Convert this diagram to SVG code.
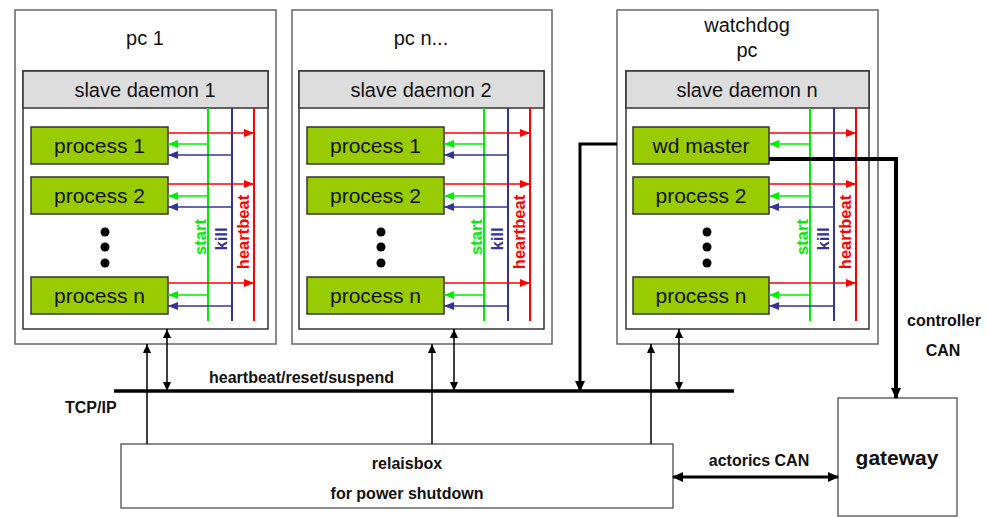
<svg xmlns="http://www.w3.org/2000/svg" width="988" height="518" viewBox="0 0 988 518">
<style>
text{font-family:"Liberation Sans",Arial,sans-serif;fill:#111}
.outer{fill:#fff;stroke:#666;stroke-width:1.5}
.daemon{fill:#fff;stroke:#333;stroke-width:1.5}
.hdr{fill:#ddd;stroke:#333;stroke-width:1.5}
.proc{fill:#99cc00;stroke:#333;stroke-width:1.5}
.t20{font-size:20px;text-anchor:middle}
.t21{font-size:21px;text-anchor:middle}
.b16{font-size:16px;font-weight:bold}
.rot{font-size:16.5px;font-weight:bold;text-anchor:middle}
.r{stroke:#ff0000;stroke-width:1.5;fill:none}
.g{stroke:#00ee00;stroke-width:1.5;fill:none}
.bl{stroke:#333399;stroke-width:1.5;fill:none}
.vr{stroke:#ff0000;stroke-width:2;fill:none}
.vg{stroke:#00ee00;stroke-width:2;fill:none}
.vb{stroke:#333399;stroke-width:2;fill:none}
.k{stroke:#000;stroke-width:1.5;fill:none}
.kk{stroke:#000;stroke-width:3.5;fill:none}
</style>
<defs>
<marker id="ar" markerUnits="userSpaceOnUse" markerWidth="10" markerHeight="8" refX="10" refY="4" orient="auto"><path d="M0,0 L10,4 L0,8 z" fill="#ff0000"/></marker>
<marker id="ag" markerUnits="userSpaceOnUse" markerWidth="10" markerHeight="8" refX="10" refY="4" orient="auto"><path d="M0,0 L10,4 L0,8 z" fill="#00ee00"/></marker>
<marker id="ab" markerUnits="userSpaceOnUse" markerWidth="10" markerHeight="8" refX="10" refY="4" orient="auto"><path d="M0,0 L10,4 L0,8 z" fill="#333399"/></marker>
<marker id="ak" markerUnits="userSpaceOnUse" markerWidth="9" markerHeight="8" refX="9" refY="4" orient="auto-start-reverse"><path d="M0,0 L9,4 L0,8 z" fill="#000"/></marker>
<marker id="akk" markerUnits="userSpaceOnUse" markerWidth="11" markerHeight="10" refX="10" refY="5" orient="auto-start-reverse"><path d="M0,0 L11,5 L0,10 z" fill="#000"/></marker>
</defs>

<g id="pc1">
<rect class="outer" x="15" y="10" width="261" height="334"/>
<text class="t20" x="145" y="45">pc 1</text>
<g id="daemon1">
<rect class="daemon" x="23" y="71" width="245" height="258"/>
<rect class="hdr" x="23" y="71" width="245" height="37"/>
<text class="t20" x="145" y="97">slave daemon 1</text>
</g>
<g id="pc1-proc1"><rect class="proc" x="31" y="127" width="137" height="37"/><text class="t21" x="99.5" y="153">process 1</text></g>
<g id="pc1-proc2"><rect class="proc" x="31" y="177" width="137" height="37"/><text class="t21" x="99.5" y="203">process 2</text></g>
<g id="pc1-procn"><rect class="proc" x="31" y="277" width="137" height="37"/><text class="t21" x="99.5" y="303">process n</text></g>
<circle cx="105" cy="232" r="4.5" fill="#000"/><circle cx="105" cy="247" r="4.5" fill="#000"/><circle cx="105" cy="263" r="4.5" fill="#000"/>
<g class="signals">
<line class="vg" x1="208" y1="108" x2="208" y2="321"/>
<line class="vb" x1="232" y1="108" x2="232" y2="321"/>
<line class="vr" x1="254" y1="108" x2="254" y2="321"/>
<line class="r" x1="168" y1="133" x2="254" y2="133" marker-end="url(#ar)"/>
<line class="g" x1="208" y1="144" x2="168" y2="144" marker-end="url(#ag)"/>
<line class="bl" x1="232" y1="155" x2="168" y2="155" marker-end="url(#ab)"/>
<line class="r" x1="168" y1="184" x2="254" y2="184" marker-end="url(#ar)"/>
<line class="g" x1="208" y1="196" x2="168" y2="196" marker-end="url(#ag)"/>
<line class="bl" x1="232" y1="207" x2="168" y2="207" marker-end="url(#ab)"/>
<line class="r" x1="168" y1="283" x2="254" y2="283" marker-end="url(#ar)"/>
<line class="g" x1="208" y1="295" x2="168" y2="295" marker-end="url(#ag)"/>
<line class="bl" x1="232" y1="306" x2="168" y2="306" marker-end="url(#ab)"/>
<text class="rot" transform="translate(206,237) rotate(-90)" style="fill:#00ee00">start</text>
<text class="rot" transform="translate(227,239) rotate(-90)" style="fill:#333399">kill</text>
<text class="rot" transform="translate(249,232) rotate(-90)" style="fill:#ff0000">heartbeat</text>
</g>
</g>

<g id="pcn" transform="translate(276,0)">
<rect class="outer" x="16" y="10" width="260" height="334"/>
<text class="t20" x="145" y="45">pc n...</text>
<g id="daemon2">
<rect class="daemon" x="23" y="71" width="245" height="258"/>
<rect class="hdr" x="23" y="71" width="245" height="37"/>
<text class="t20" x="145" y="97">slave daemon 2</text>
</g>
<g id="pcn-proc1"><rect class="proc" x="31" y="127" width="137" height="37"/><text class="t21" x="99.5" y="153">process 1</text></g>
<g id="pcn-proc2"><rect class="proc" x="31" y="177" width="137" height="37"/><text class="t21" x="99.5" y="203">process 2</text></g>
<g id="pcn-procn"><rect class="proc" x="31" y="277" width="137" height="37"/><text class="t21" x="99.5" y="303">process n</text></g>
<circle cx="105" cy="232" r="4.5" fill="#000"/><circle cx="105" cy="247" r="4.5" fill="#000"/><circle cx="105" cy="263" r="4.5" fill="#000"/>
<g class="signals">
<line class="vg" x1="208" y1="108" x2="208" y2="321"/>
<line class="vb" x1="232" y1="108" x2="232" y2="321"/>
<line class="vr" x1="254" y1="108" x2="254" y2="321"/>
<line class="r" x1="168" y1="133" x2="254" y2="133" marker-end="url(#ar)"/>
<line class="g" x1="208" y1="144" x2="168" y2="144" marker-end="url(#ag)"/>
<line class="bl" x1="232" y1="155" x2="168" y2="155" marker-end="url(#ab)"/>
<line class="r" x1="168" y1="184" x2="254" y2="184" marker-end="url(#ar)"/>
<line class="g" x1="208" y1="196" x2="168" y2="196" marker-end="url(#ag)"/>
<line class="bl" x1="232" y1="207" x2="168" y2="207" marker-end="url(#ab)"/>
<line class="r" x1="168" y1="283" x2="254" y2="283" marker-end="url(#ar)"/>
<line class="g" x1="208" y1="295" x2="168" y2="295" marker-end="url(#ag)"/>
<line class="bl" x1="232" y1="306" x2="168" y2="306" marker-end="url(#ab)"/>
<text class="rot" transform="translate(206,237) rotate(-90)" style="fill:#00ee00">start</text>
<text class="rot" transform="translate(227,239) rotate(-90)" style="fill:#333399">kill</text>
<text class="rot" transform="translate(249,232) rotate(-90)" style="fill:#ff0000">heartbeat</text>
</g>
</g>

<g id="watchdog" transform="translate(602,0)">
<rect class="outer" x="15" y="10" width="261" height="334"/>
<text class="t20" x="145" y="32">watchdog</text>
<text class="t20" x="145" y="57">pc</text>
<g id="daemonn">
<rect class="daemon" x="24" y="71" width="243" height="258"/>
<rect class="hdr" x="24" y="71" width="243" height="37"/>
<text class="t20" x="145" y="97">slave daemon n</text>
</g>
<g id="wd-master"><rect class="proc" x="31" y="127" width="136" height="37"/><text class="t21" x="99" y="153">wd master</text></g>
<g id="wd-proc2"><rect class="proc" x="31" y="177" width="136" height="37"/><text class="t21" x="99" y="203">process 2</text></g>
<g id="wd-procn"><rect class="proc" x="31" y="277" width="136" height="37"/><text class="t21" x="99" y="303">process n</text></g>
<circle cx="105" cy="232" r="4.5" fill="#000"/><circle cx="105" cy="247" r="4.5" fill="#000"/><circle cx="105" cy="263" r="4.5" fill="#000"/>
<g class="signals">
<line class="vg" x1="208" y1="108" x2="208" y2="321"/>
<line class="vb" x1="232" y1="108" x2="232" y2="321"/>
<line class="vr" x1="254" y1="108" x2="254" y2="321"/>
<line class="r" x1="167" y1="133" x2="254" y2="133" marker-end="url(#ar)"/>
<line class="g" x1="208" y1="144" x2="167" y2="144" marker-end="url(#ag)"/>
<line class="r" x1="167" y1="184" x2="254" y2="184" marker-end="url(#ar)"/>
<line class="g" x1="208" y1="196" x2="167" y2="196" marker-end="url(#ag)"/>
<line class="bl" x1="232" y1="207" x2="167" y2="207" marker-end="url(#ab)"/>
<line class="r" x1="167" y1="283" x2="254" y2="283" marker-end="url(#ar)"/>
<line class="g" x1="208" y1="295" x2="167" y2="295" marker-end="url(#ag)"/>
<line class="bl" x1="232" y1="306" x2="167" y2="306" marker-end="url(#ab)"/>
<text class="rot" transform="translate(206,237) rotate(-90)" style="fill:#00ee00">start</text>
<text class="rot" transform="translate(227,239) rotate(-90)" style="fill:#333399">kill</text>
<text class="rot" transform="translate(249,232) rotate(-90)" style="fill:#ff0000">heartbeat</text>
</g>
</g>

<g id="relaisbox">
<rect class="outer" x="121" y="444" width="552" height="64"/>
<text class="b16" x="407" y="469" text-anchor="middle">relaisbox</text>
<text class="b16" x="407" y="499" text-anchor="middle">for power shutdown</text>
</g>

<g id="gateway">
<rect class="outer" x="838" y="398" width="119" height="118"/>
<text x="897" y="465" text-anchor="middle" style="font-size:21px;font-weight:bold">gateway</text>
</g>

<g id="connectors">
<line class="kk" x1="114" y1="391" x2="734" y2="391"/>
<line class="k" x1="147" y1="444" x2="147" y2="344" marker-end="url(#ak)"/>
<line class="k" x1="167" y1="329" x2="167" y2="391" marker-start="url(#ak)" marker-end="url(#ak)"/>
<line class="k" x1="432" y1="444" x2="432" y2="344" marker-end="url(#ak)"/>
<line class="k" x1="454" y1="329" x2="454" y2="391" marker-start="url(#ak)" marker-end="url(#ak)"/>
<line class="k" x1="651" y1="444" x2="651" y2="344" marker-end="url(#ak)"/>
<line class="k" x1="679" y1="329" x2="679" y2="391" marker-start="url(#ak)" marker-end="url(#ak)"/>
<polyline style="stroke:#000;stroke-width:3;fill:none" points="617,144 580,144 580,391" marker-end="url(#akk)"/>
<polyline style="stroke:#000;stroke-width:4;fill:none" points="769,159 896,159 896,398" marker-end="url(#akk)"/>
<line style="stroke:#000;stroke-width:3" x1="673" y1="477" x2="838" y2="477" marker-start="url(#akk)" marker-end="url(#akk)"/>
</g>

<g id="labels">
<text class="b16" x="209" y="383">heartbeat/reset/suspend</text>
<text class="b16" x="65" y="413">TCP/IP</text>
<text class="b16" x="944" y="326" text-anchor="middle">controller</text>
<text class="b16" x="943" y="356" text-anchor="middle">CAN</text>
<text class="b16" x="759" y="466" text-anchor="middle">actorics CAN</text>
</g>
</svg>
